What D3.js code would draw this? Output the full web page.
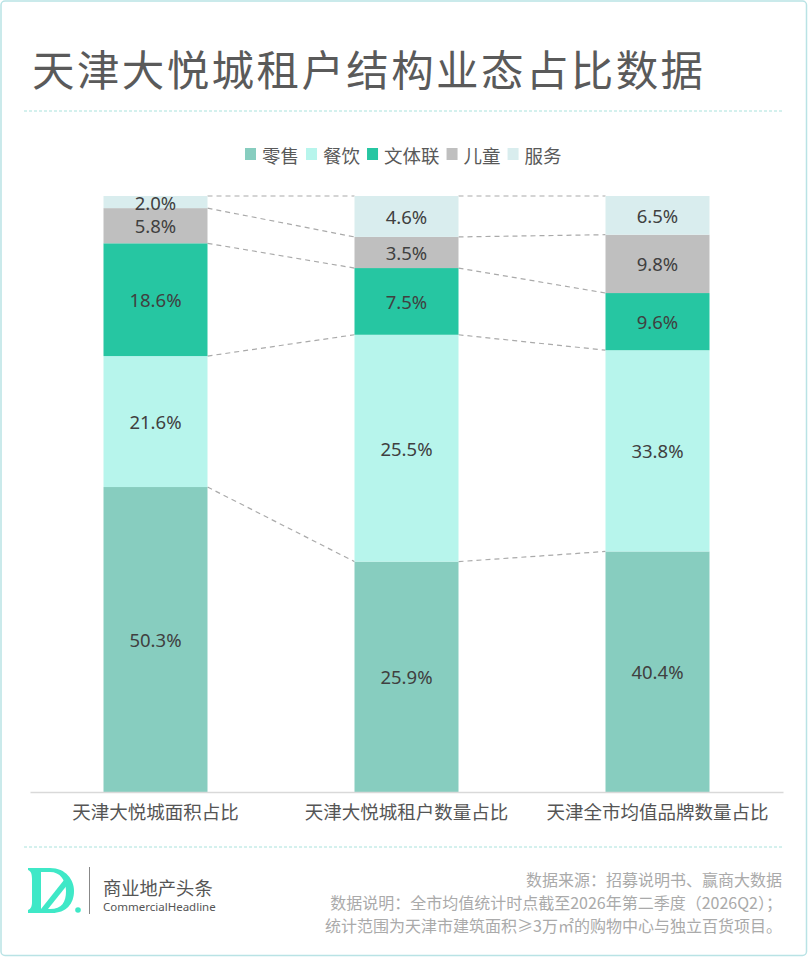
<!DOCTYPE html>
<html>
<head>
<meta charset="utf-8">
<script src="https://cdn.jsdelivr.net/npm/d3@7"></script>
<style>
  html, body { margin: 0; padding: 0; background: #fff; }
  svg { display: block; font-family: "Noto Sans", "Noto Sans CJK SC", sans-serif; }
</style>
</head>
<body>
<div id="chart"></div>
<script>
// data
const categories = ['天津大悦城面积占比', '天津大悦城租户数量占比', '天津全市均值品牌数量占比'];
const seriesNames = ['零售', '餐饮', '文体联', '儿童', '服务'];
const retail = [50.3, 25.9, 40.4];
const food = [21.6, 25.5, 33.8];
const culture = [18.6, 7.5, 9.6];
const kids = [5.8, 3.5, 9.8];
const service = [2.0, 4.6, 6.5];
const colors = ['#87cdbf', '#b7f5ec', '#26c6a2', '#bfbfbf', '#d9edee'];
const footNotes = [
    '数据来源：招募说明书、赢商大数据',
    '数据说明：全市均值统计时点截至2026年第二季度（2026Q2）；',
    '统计范围为天津市建筑面积≥3万㎡的购物中心与独立百货项目。'
];

const width = 808;
const height = 957;
const margin = {top: 196, right: 25, bottom: 165, left: 30};
const barWidth = 104;

const values = [retail, food, culture, kids, service];
const rows = categories.map((c, i) => {
    const row = {category: c};
    seriesNames.forEach((s, j) => row[s] = values[j][i]);
    return row;
});

const stacked = d3.stack()
    .keys(seriesNames)
    .offset(d3.stackOffsetExpand)(rows);

const x = d3.scaleBand()
    .domain(categories)
    .range([margin.left, width - margin.right])
    .padding(0);

const y = d3.scaleLinear()
    .domain([0, 1])
    .range([height - margin.bottom, margin.top]);

const color = d3.scaleOrdinal().domain(seriesNames).range(colors);

const barX = c => x(c) + x.bandwidth() / 2 - barWidth / 2;

const svg = d3.select('#chart').append('svg')
    .attr('width', width)
    .attr('height', height);

// frame
svg.append('rect')
    .attr('x', 1).attr('y', 1)
    .attr('width', width - 2.5).attr('height', height - 2.5)
    .attr('rx', 4)
    .attr('fill', '#fff')
    .attr('stroke', '#b9e3e5')
    .attr('stroke-width', 1.5);

// title
svg.append('text')
    .attr('x', 32)
    .attr('y', 86)
    .attr('font-family', '"Noto Sans CJK SC", sans-serif')
    .attr('font-size', 42.5)
    .attr('letter-spacing', 2.4)
    .attr('fill', '#5a5a5a')
    .text('天津大悦城租户结构业态占比数据');

[111, 847].forEach(yy => {
    svg.append('line')
        .attr('x1', 24).attr('x2', 783)
        .attr('y1', yy).attr('y2', yy)
        .attr('stroke', '#a9e2dc')
        .attr('stroke-width', 1)
        .attr('stroke-dasharray', '3,2');
});

// legend
const legend = svg.append('g')
    .attr('font-family', '"Noto Sans CJK SC", sans-serif')
    .attr('font-size', 18.5)
    .attr('fill', '#595959');
let lx = 245;
seriesNames.forEach(s => {
    legend.append('rect')
        .attr('x', lx).attr('y', 148)
        .attr('width', 11).attr('height', 12)
        .attr('fill', color(s));
    const t = legend.append('text')
        .attr('x', lx + 17)
        .attr('y', 155)
        .attr('dominant-baseline', 'central')
        .text(s);
    lx += 17 + t.node().getComputedTextLength() + 7;
});

// connector lines between neighbouring bars
const boundaries = stacked.map(layer => layer.map(d => d[1]));
const links = [];
boundaries.forEach(b => {
    for (let i = 0; i < categories.length - 1; i++) {
        links.push({x1: barX(categories[i]) + barWidth, y1: y(b[i]), x2: barX(categories[i + 1]), y2: y(b[i + 1])});
    }
});
svg.append('g')
    .selectAll('line')
    .data(links)
    .join('line')
    .attr('x1', d => d.x1).attr('y1', d => d.y1)
    .attr('x2', d => d.x2).attr('y2', d => d.y2)
    .attr('stroke', '#aaa')
    .attr('stroke-width', 1.2)
    .attr('stroke-dasharray', '5,4');

// bars
const layers = svg.append('g')
    .selectAll('g')
    .data(stacked)
    .join('g')
    .attr('fill', d => color(d.key));

layers.selectAll('rect')
    .data(d => d)
    .join('rect')
    .attr('x', d => barX(d.data.category))
    .attr('y', d => y(d[1]))
    .attr('width', barWidth)
    .attr('height', d => y(d[0]) - y(d[1]));

// value labels
stacked.forEach(layer => {
    svg.append('g')
        .selectAll('text')
        .data(layer)
        .join('text')
        .attr('x', d => barX(d.data.category) + barWidth / 2)
        .attr('y', d => (y(d[0]) + y(d[1])) / 2)
        .attr('text-anchor', 'middle')
        .attr('dominant-baseline', 'central')
        .attr('font-size', 18.5)
        .attr('fill', '#404040')
        .text(d => d3.format('.1f')(d.data[layer.key]) + '%');
});

// x axis
const xAxis = svg.append('g')
    .attr('transform', `translate(0,${height - margin.bottom})`)
    .call(d3.axisBottom(x).tickSize(0).tickPadding(14));
xAxis.select('.domain').attr('stroke', '#d9d9d9').attr('stroke-width', 1.5);
xAxis.selectAll('text')
    .attr('font-family', '"Noto Sans CJK SC", sans-serif')
    .attr('font-size', 18.5)
    .attr('fill', '#555');

// footer logo
const logo = svg.append('g');
logo.append('path')
    .attr('fill', '#3fe8c7')
    .attr('fill-rule', 'evenodd')
    .attr('d', 'M28,868 H50 C66,868 74,880 74,891 C74,904 66,913 52,913 H28 V910 C31,909 32,906 32,902 V879 C32,874 31,871 28,870 Z ' +
        'M41,872 V909 H50 C62,909 66,902 66,891 C66,880 60,872 50,872 Z');
logo.append('path')
    .attr('fill', '#3fe8c7')
    .attr('d', 'M41,909 L64,880 L68,884 L48,909 Z');
logo.append('circle')
    .attr('cx', 78).attr('cy', 910).attr('r', 2.8)
    .attr('fill', '#3fe8c7');
logo.append('line')
    .attr('x1', 89.5).attr('x2', 89.5)
    .attr('y1', 867).attr('y2', 914)
    .attr('stroke', '#888')
    .attr('stroke-width', 1);
logo.append('text')
    .attr('x', 103).attr('y', 887)
    .attr('dominant-baseline', 'central')
    .attr('font-family', '"Noto Sans CJK SC", sans-serif')
    .attr('font-size', 18.3)
    .attr('fill', '#555')
    .text('商业地产头条');
logo.append('text')
    .attr('x', 103).attr('y', 906)
    .attr('dominant-baseline', 'central')
    .attr('font-size', 11.5)
    .attr('fill', '#555')
    .text('CommercialHeadline');

// footer notes
svg.append('g')
    .selectAll('text')
    .data(footNotes)
    .join('text')
    .attr('x', 782)
    .attr('y', (d, i) => 879 + i * 23)
    .attr('text-anchor', 'end')
    .attr('dominant-baseline', 'central')
    .attr('font-family', '"Noto Sans CJK SC", sans-serif')
    .attr('font-size', 16)
    .attr('fill', '#aaa')
    .text(d => d);
</script>
</body>
</html>
